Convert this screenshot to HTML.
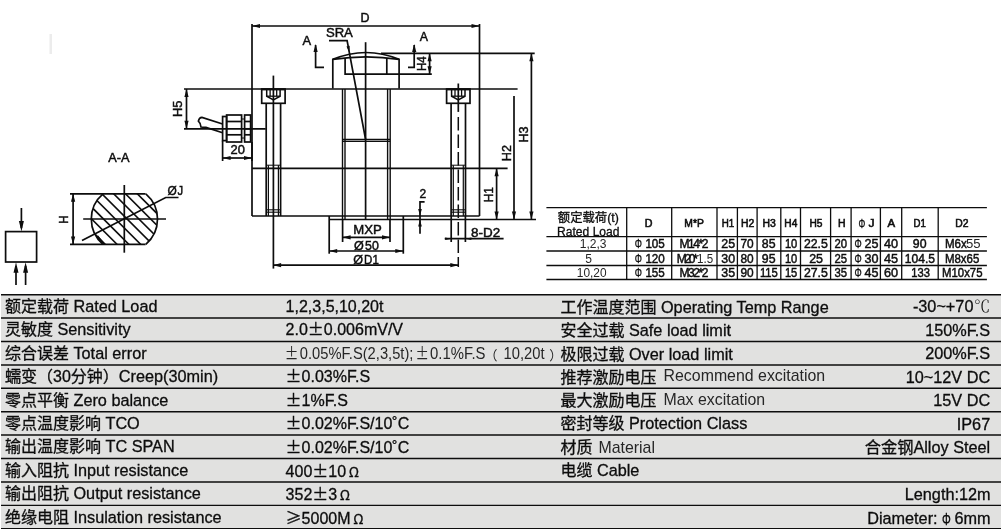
<!DOCTYPE html>
<html lang="zh"><head><meta charset="utf-8"><title>Load cell specification</title>
<style>
html,body{margin:0;padding:0;background:#fff;}
body{width:1001px;height:529px;overflow:hidden;}
svg{display:block;will-change:transform;font-family:"Liberation Sans","Noto Sans CJK SC",sans-serif;}
svg .c{font-family:"Noto Sans CJK SC",sans-serif;}
svg .ph{stroke-width:0.3px !important;}
svg .sr text{stroke-width:0.45px;}
svg .dr text{stroke-width:0.45px;}
svg .lt,svg .lt text,svg .lt tspan{stroke:none;fill:#262626;}
svg .cs{font-family:"Noto Serif CJK SC",serif;stroke:none;font-weight:300;}
svg .hd text{stroke-width:0.55px;}
svg text{fill:#0d0d0d;stroke:#0d0d0d;stroke-width:0.3px;}
</style></head><body>
<svg width="1001" height="529" viewBox="0 0 1001 529" stroke="#0d0d0d" fill="none">
<rect x="0" y="0" width="1001" height="529" fill="#ffffff" stroke="none"/>
<rect x="1" y="295" width="1000" height="234" fill="#e1e1e0" stroke="none"/>
<line x1="1" y1="294.7" x2="1001" y2="294.7" stroke-width="1.4" />
<line x1="1" y1="318.0" x2="1001" y2="318.0" stroke-width="1.4" />
<line x1="1" y1="341.5" x2="1001" y2="341.5" stroke-width="1.4" />
<line x1="1" y1="365.0" x2="1001" y2="365.0" stroke-width="1.4" />
<line x1="1" y1="388.3" x2="1001" y2="388.3" stroke-width="1.4" />
<line x1="1" y1="411.7" x2="1001" y2="411.7" stroke-width="1.4" />
<line x1="1" y1="435.0" x2="1001" y2="435.0" stroke-width="1.4" />
<line x1="1" y1="458.5" x2="1001" y2="458.5" stroke-width="1.4" />
<line x1="1" y1="482.0" x2="1001" y2="482.0" stroke-width="1.4" />
<line x1="1" y1="505.4" x2="1001" y2="505.4" stroke-width="1.4" />
<line x1="1" y1="528.6" x2="1001" y2="528.6" stroke-width="1.4" />
<text x="5" y="312.1" font-size="16" >额定载荷 <tspan font-size="16.25">Rated Load</tspan></text>
<text x="285.6" y="312.0" font-size="16" >1,2,3,5,10,20t</text>
<text x="560.5" y="312.8" font-size="16" >工作温度范围 <tspan font-size="16.25">Operating Temp Range</tspan></text>
<text x="990.2" y="312.2" font-size="16.25" text-anchor="end" >-30~+70<tspan class="cs" dx="0.5">℃</tspan></text>
<text x="5" y="335.4" font-size="16" >灵敏度 <tspan font-size="16.25">Sensitivity</tspan></text>
<text x="285.6" y="335.3" font-size="16" >2.0<tspan class="c">±</tspan>0.006mV/V</text>
<text x="560.5" y="336.0" font-size="16" >安全过载 <tspan font-size="16.25">Safe load limit</tspan></text>
<text x="990.2" y="335.5" font-size="16.25" text-anchor="end" >150%F.S</text>
<text x="5" y="358.8" font-size="16" >综合误差 <tspan font-size="16.25">Total error</tspan></text>
<text x="560.5" y="359.5" font-size="16" >极限过载 <tspan font-size="16.25">Over load limit</tspan></text>
<text x="990.2" y="359.0" font-size="16.25" text-anchor="end" >200%F.S</text>
<text x="5" y="382.2" font-size="16" >蠕变（30分钟）<tspan font-size="16.25">Creep(30min)</tspan></text>
<text x="285.6" y="382.3" font-size="16" ><tspan class="c">±</tspan>0.03%F.S</text>
<text x="560.5" y="382.8" font-size="16" >推荐激励电压 <tspan class="lt" font-size="15.9" dy="-1.6" dx="2.6">Recommend excitation</tspan></text>
<text x="990.2" y="382.6" font-size="16.25" text-anchor="end" >10~12V DC</text>
<text x="5" y="405.6" font-size="16" >零点平衡 <tspan font-size="16.25">Zero balance</tspan></text>
<text x="285.6" y="405.8" font-size="16" ><tspan class="c">±</tspan>1%F.S</text>
<text x="560.5" y="406.1" font-size="16" >最大激励电压 <tspan class="lt" font-size="15.9" dy="-1" dx="2.6">Max excitation</tspan></text>
<text x="990.2" y="406.0" font-size="16.25" text-anchor="end" >15V DC</text>
<text x="5" y="429.1" font-size="16" >零点温度影响 <tspan font-size="16.25">TCO</tspan></text>
<text x="285.6" y="429.2" font-size="16" ><tspan class="c">±</tspan>0.02%F.S/10˚C</text>
<text x="560.5" y="429.3" font-size="16" >密封等级 <tspan font-size="16.25">Protection Class</tspan></text>
<text x="990.2" y="429.5" font-size="16.25" text-anchor="end" >IP67</text>
<text x="5" y="452.3" font-size="16" >输出温度影响 <tspan font-size="16.25">TC SPAN</tspan></text>
<text x="285.6" y="452.5" font-size="16" ><tspan class="c">±</tspan>0.02%F.S/10˚C</text>
<text x="560.5" y="452.9" font-size="16" >材质 <tspan class="lt" font-size="15.9" dx="1.5">Material</tspan></text>
<text x="990.2" y="452.9" font-size="16.25" text-anchor="end" >合金钢Alloy Steel</text>
<text x="5" y="475.7" font-size="16" >输入阻抗 <tspan font-size="16.25">Input resistance</tspan></text>
<text x="285.6" y="476.7" font-size="16" >400<tspan class="c">±</tspan>10<tspan class="c" font-size="13.6" dx="2.6">Ω</tspan></text>
<text x="560.5" y="476.4" font-size="16" >电缆 <tspan font-size="16.25">Cable</tspan></text>
<text x="5" y="499.2" font-size="16" >输出阻抗 <tspan font-size="16.25">Output resistance</tspan></text>
<text x="285.6" y="500.2" font-size="16" >352<tspan class="c">±</tspan>3<tspan class="c" font-size="13.6" dx="2.6">Ω</tspan></text>
<text x="990.6" y="500.1" font-size="16.25" text-anchor="end" >Length:12m</text>
<text x="5" y="522.6" font-size="16" >绝缘电阻 <tspan font-size="16.25">Insulation resistance</tspan></text>
<text x="285.6" y="523.6" font-size="16" ><tspan class="c">≥</tspan>5000M<tspan class="c" font-size="13.6" dx="2.6">Ω</tspan></text>
<text y="523.5" font-size="16.25"><tspan x="942.1" text-anchor="end">Diameter: </tspan><tspan x="941.9" y="524.8" font-size="16.5" textLength="8.8" lengthAdjust="spacingAndGlyphs" class="ph">Φ</tspan><tspan x="990.6" y="523.5" text-anchor="end">6mm</tspan></text>
<text class="lt"><tspan x="284.7" y="358.9" font-size="16.2" textLength="13.7" lengthAdjust="spacingAndGlyphs" class="c">±</tspan><tspan x="299.8" y="358.9" font-size="16.2" textLength="113.6" lengthAdjust="spacingAndGlyphs">0.05%F.S(2,3,5t);</tspan><tspan x="415.4" y="358.9" font-size="16.2" textLength="13.4" lengthAdjust="spacingAndGlyphs" class="c">±</tspan><tspan x="430.1" y="358.9" font-size="16.2" textLength="55.4" lengthAdjust="spacingAndGlyphs">0.1%F.S</tspan><tspan x="484.6" y="360.2" font-size="13" class="c">（</tspan><tspan x="503.5" y="358.9" font-size="16.2" textLength="41.0" lengthAdjust="spacingAndGlyphs">10,20t</tspan><tspan x="549.3" y="360.2" font-size="13" class="c">）</tspan></text>
<line x1="546.4" y1="207.7" x2="986.9" y2="207.7" stroke-width="1.3" />
<line x1="546.4" y1="236.6" x2="986.9" y2="236.6" stroke-width="1.3" />
<line x1="546.4" y1="251" x2="986.9" y2="251" stroke-width="1.3" />
<line x1="546.4" y1="265.5" x2="986.9" y2="265.5" stroke-width="1.3" />
<line x1="546.4" y1="279.5" x2="986.9" y2="279.5" stroke-width="1.3" />
<line x1="626.7" y1="207.7" x2="626.7" y2="279.5" stroke-width="1.3" />
<line x1="671.7" y1="207.7" x2="671.7" y2="279.5" stroke-width="1.3" />
<line x1="717" y1="207.7" x2="717" y2="279.5" stroke-width="1.3" />
<line x1="737.4" y1="207.7" x2="737.4" y2="279.5" stroke-width="1.3" />
<line x1="757.1" y1="207.7" x2="757.1" y2="279.5" stroke-width="1.3" />
<line x1="780.8" y1="207.7" x2="780.8" y2="279.5" stroke-width="1.3" />
<line x1="800.5" y1="207.7" x2="800.5" y2="279.5" stroke-width="1.3" />
<line x1="830.6" y1="207.7" x2="830.6" y2="279.5" stroke-width="1.3" />
<line x1="851.1" y1="207.7" x2="851.1" y2="279.5" stroke-width="1.3" />
<line x1="880.4" y1="207.7" x2="880.4" y2="279.5" stroke-width="1.3" />
<line x1="901.7" y1="207.7" x2="901.7" y2="279.5" stroke-width="1.3" />
<line x1="938.2" y1="207.7" x2="938.2" y2="279.5" stroke-width="1.3" />
<text x="588.3" y="222.4" font-size="12" text-anchor="middle" textLength="61" lengthAdjust="spacingAndGlyphs" >额定载荷(t)</text>
<text x="588.3" y="235.6" font-size="12" text-anchor="middle" textLength="62.5" lengthAdjust="spacingAndGlyphs" >Rated Load</text>
<g class="hd">
<text x="644.8" y="227.2" font-size="10" textLength="7.7" lengthAdjust="spacingAndGlyphs">D</text>
<text x="684.3" y="227.2" font-size="10" textLength="19.5" lengthAdjust="spacingAndGlyphs">M*P</text>
<text x="721.8" y="227.2" font-size="10" textLength="12.5" lengthAdjust="spacingAndGlyphs">H1</text>
<text x="741.0" y="227.2" font-size="10" textLength="13.3" lengthAdjust="spacingAndGlyphs">H2</text>
<text x="762.5" y="227.2" font-size="10" textLength="13.3" lengthAdjust="spacingAndGlyphs">H3</text>
<text x="784.3" y="227.2" font-size="10" textLength="13.0" lengthAdjust="spacingAndGlyphs">H4</text>
<text x="809.5" y="227.2" font-size="10" textLength="13.0" lengthAdjust="spacingAndGlyphs">H5</text>
<text x="838.1" y="227.2" font-size="10" textLength="7.6" lengthAdjust="spacingAndGlyphs">H</text>
<text><tspan x="858.6" y="227.6" font-size="12.5" textLength="6.8" lengthAdjust="spacingAndGlyphs" class="ph">Φ</tspan><tspan x="868.5" y="227.2" font-size="10.5" textLength="6.0" lengthAdjust="spacingAndGlyphs">J</tspan></text>
<text x="887.5" y="227.2" font-size="10" textLength="7.6" lengthAdjust="spacingAndGlyphs">A</text>
<text x="913.5" y="227.2" font-size="10" textLength="12.3" lengthAdjust="spacingAndGlyphs">D1</text>
<text x="955.3" y="227.2" font-size="10" textLength="13.2" lengthAdjust="spacingAndGlyphs">D2</text>
</g>
<text x="579.7" y="248.4" font-size="12" textLength="26.8" lengthAdjust="spacingAndGlyphs" class="lt">1,2,3</text>
<text x="585.3" y="262.7" font-size="12" textLength="6.7" lengthAdjust="spacingAndGlyphs" class="lt">5</text>
<text x="576.8" y="276.9" font-size="12" textLength="29.7" lengthAdjust="spacingAndGlyphs" class="lt">10,20</text>
<g class="sr">
<text><tspan x="634.7" y="248.4" font-size="12.5" textLength="7.2" lengthAdjust="spacingAndGlyphs" class="ph">Φ</tspan><tspan x="645.4" y="248.4" font-size="12" textLength="19.4" lengthAdjust="spacingAndGlyphs">105</tspan></text>
<text x="679.5" y="248.4" font-size="12" textLength="29.0" lengthAdjust="spacing">M14*2</text>
<text x="721.3" y="248.4" font-size="12" textLength="13.8" lengthAdjust="spacingAndGlyphs">25</text>
<text x="740.5" y="248.4" font-size="12" textLength="13.2" lengthAdjust="spacingAndGlyphs">70</text>
<text x="761.8" y="248.4" font-size="12" textLength="13.7" lengthAdjust="spacingAndGlyphs">85</text>
<text x="784.9" y="248.4" font-size="12" textLength="12.4" lengthAdjust="spacingAndGlyphs">10</text>
<text x="803.9" y="248.4" font-size="12" textLength="23.9" lengthAdjust="spacingAndGlyphs">22.5</text>
<text x="834.5" y="248.4" font-size="12" textLength="12.6" lengthAdjust="spacingAndGlyphs">20</text>
<text><tspan x="854.5" y="248.4" font-size="12.5" textLength="7.2" lengthAdjust="spacingAndGlyphs" class="ph">Φ</tspan><tspan x="864.5" y="248.4" font-size="12" textLength="14.0" lengthAdjust="spacingAndGlyphs">25</tspan></text>
<text x="883.9" y="248.4" font-size="12" textLength="14.1" lengthAdjust="spacingAndGlyphs">40</text>
<text x="912.8" y="248.4" font-size="12" textLength="13.7" lengthAdjust="spacingAndGlyphs">90</text>
<text><tspan x="634.7" y="262.7" font-size="12.5" textLength="7.2" lengthAdjust="spacingAndGlyphs" class="ph">Φ</tspan><tspan x="645.4" y="262.7" font-size="12" textLength="19.4" lengthAdjust="spacingAndGlyphs">120</tspan></text>
<text><tspan x="676.7" y="262.7" font-size="12" textLength="21.1" lengthAdjust="spacing">M20*</tspan><tspan x="697.1" y="262.7" font-size="12" textLength="16.1" lengthAdjust="spacingAndGlyphs" class="lt">1.5</tspan></text>
<text x="721.3" y="262.7" font-size="12" textLength="13.8" lengthAdjust="spacingAndGlyphs">30</text>
<text x="740.5" y="262.7" font-size="12" textLength="13.2" lengthAdjust="spacingAndGlyphs">80</text>
<text x="761.8" y="262.7" font-size="12" textLength="13.7" lengthAdjust="spacingAndGlyphs">95</text>
<text x="784.9" y="262.7" font-size="12" textLength="12.4" lengthAdjust="spacingAndGlyphs">10</text>
<text x="809.2" y="262.7" font-size="12" textLength="13.8" lengthAdjust="spacingAndGlyphs">25</text>
<text x="834.5" y="262.7" font-size="12" textLength="12.6" lengthAdjust="spacingAndGlyphs">25</text>
<text><tspan x="854.5" y="262.7" font-size="12.5" textLength="7.2" lengthAdjust="spacingAndGlyphs" class="ph">Φ</tspan><tspan x="864.5" y="262.7" font-size="12" textLength="14.0" lengthAdjust="spacingAndGlyphs">30</tspan></text>
<text x="883.9" y="262.7" font-size="12" textLength="14.1" lengthAdjust="spacingAndGlyphs">45</text>
<text x="904.8" y="262.7" font-size="12" textLength="30.2" lengthAdjust="spacingAndGlyphs">104.5</text>
<text><tspan x="634.7" y="276.9" font-size="12.5" textLength="7.2" lengthAdjust="spacingAndGlyphs" class="ph">Φ</tspan><tspan x="645.4" y="276.9" font-size="12" textLength="19.4" lengthAdjust="spacingAndGlyphs">155</tspan></text>
<text x="679.5" y="276.9" font-size="12" textLength="29.0" lengthAdjust="spacing">M32*2</text>
<text x="721.3" y="276.9" font-size="12" textLength="13.8" lengthAdjust="spacingAndGlyphs">35</text>
<text x="740.5" y="276.9" font-size="12" textLength="13.2" lengthAdjust="spacingAndGlyphs">90</text>
<text x="759.9" y="276.9" font-size="12" textLength="17.9" lengthAdjust="spacingAndGlyphs">115</text>
<text x="784.9" y="276.9" font-size="12" textLength="12.4" lengthAdjust="spacingAndGlyphs">15</text>
<text x="803.9" y="276.9" font-size="12" textLength="23.9" lengthAdjust="spacingAndGlyphs">27.5</text>
<text x="834.5" y="276.9" font-size="12" textLength="12.6" lengthAdjust="spacingAndGlyphs">35</text>
<text><tspan x="854.5" y="276.9" font-size="12.5" textLength="7.2" lengthAdjust="spacingAndGlyphs" class="ph">Φ</tspan><tspan x="864.5" y="276.9" font-size="12" textLength="14.0" lengthAdjust="spacingAndGlyphs">45</tspan></text>
<text x="883.9" y="276.9" font-size="12" textLength="14.1" lengthAdjust="spacingAndGlyphs">60</text>
<text x="911.2" y="276.9" font-size="12" textLength="18.7" lengthAdjust="spacingAndGlyphs">133</text>
<text><tspan x="944.9" y="248.4" font-size="12" textLength="21.8" lengthAdjust="spacingAndGlyphs">M6x</tspan><tspan x="965.9" y="248.4" font-size="12" textLength="14.6" lengthAdjust="spacingAndGlyphs" class="lt">55</tspan></text>
<text x="944.9" y="262.7" font-size="12" textLength="34.4" lengthAdjust="spacingAndGlyphs">M8x65</text>
<text x="942.0" y="276.9" font-size="12" textLength="40.5" lengthAdjust="spacingAndGlyphs">M10x75</text>
</g>
<g class="dr">
<line x1="252" y1="24" x2="252" y2="216" stroke-width="1.7" />
<line x1="479.5" y1="24" x2="479.5" y2="216" stroke-width="1.7" />
<line x1="184" y1="89" x2="517.6" y2="89" stroke-width="1.7" />
<line x1="252" y1="168.3" x2="507.6" y2="168.3" stroke-width="1.7" />
<line x1="252" y1="216" x2="479.5" y2="216" stroke-width="1.7" />
<line x1="329.2" y1="219.5" x2="536" y2="219.5" stroke-width="1.7" />
<line x1="329.2" y1="216" x2="329.2" y2="253.7" stroke-width="1.7" />
<line x1="403.3" y1="216" x2="403.3" y2="253.7" stroke-width="1.7" />
<line x1="252" y1="26" x2="479.5" y2="26" stroke-width="1.7" />
<polygon points="252.0,26.0 260.0,23.9 260.0,28.1" fill="#0d0d0d" stroke="none"/>
<polygon points="479.5,26.0 471.5,28.1 471.5,23.9" fill="#0d0d0d" stroke="none"/>
<text x="360.6" y="22" font-size="12.3" textLength="9.0" lengthAdjust="spacingAndGlyphs">D</text>
<path d="M332.8 88.5V59.4Q366 45.6 399.1 59.4V88.5" stroke-width="1.7" fill="none" />
<path d="M332.8 59.4Q366 54.2 399.1 59.4" stroke-width="1.7" fill="none" />
<path d="M345.1 58V74.2H431.8" stroke-width="1.7" fill="none" />
<line x1="386.8" y1="58" x2="386.8" y2="74.2" stroke-width="1.7" />
<line x1="381" y1="53.3" x2="534.7" y2="53.3" stroke-width="1.7" />
<line x1="429.6" y1="53.3" x2="429.6" y2="74.2" stroke-width="1.7" />
<polygon points="429.6,53.3 431.7,61.3 427.5,61.3" fill="#0d0d0d" stroke="none"/>
<polygon points="429.6,74.2 427.5,66.2 431.7,66.2" fill="#0d0d0d" stroke="none"/>
<text x="426.5" y="71.1" font-size="12.3" textLength="14.8" lengthAdjust="spacingAndGlyphs" transform="rotate(-90 426.5 71.1)">H4</text>
<path d="M315.6 45V67.3H324" stroke-width="1.7" fill="none" />
<polygon points="315.6,44.0 317.7,52.0 313.5,52.0" fill="#0d0d0d" stroke="none"/>
<path d="M408 67.3H414.2V45" stroke-width="1.7" fill="none" />
<polygon points="414.2,44.0 416.3,52.0 412.1,52.0" fill="#0d0d0d" stroke="none"/>
<text x="302.4" y="45" font-size="12.3" textLength="8.6" lengthAdjust="spacingAndGlyphs">A</text>
<text x="419.8" y="40.6" font-size="12.3" textLength="8.2" lengthAdjust="spacingAndGlyphs">A</text>
<text x="325.9" y="37.1" font-size="12.3" textLength="27.0" lengthAdjust="spacingAndGlyphs">SRA</text>
<path d="M329 40.6H347.1L365.6 139.5" stroke-width="1.7" fill="none" />
<polygon points="349.3,52.5 346.5,46.4 349.7,45.8" fill="#0d0d0d" stroke="none"/>
<line x1="365.6" y1="42.2" x2="365.6" y2="219.3" stroke-width="1.7" />
<line x1="342.5" y1="89" x2="342.5" y2="219.3" stroke-width="1.4" />
<line x1="345.0" y1="89" x2="345.0" y2="219.3" stroke-width="1.4" />
<line x1="387.6" y1="89" x2="387.6" y2="219.3" stroke-width="1.4" />
<line x1="390.2" y1="89" x2="390.2" y2="219.3" stroke-width="1.4" />
<line x1="342.5" y1="139.5" x2="390.2" y2="139.5" stroke-width="1.4" />
<line x1="342.5" y1="141.4" x2="390.2" y2="141.4" stroke-width="1.4" />
<rect x="261.7" y="89" width="23.4" height="14.3" stroke-width="1.7" fill="none"/>
<path d="M266.7 89V96.2L273.4 100L280.1 96.2V89" stroke-width="1.5" fill="none" />
<line x1="270.1" y1="89" x2="270.1" y2="96.2" stroke-width="1.3" />
<line x1="276.7" y1="89" x2="276.7" y2="96.2" stroke-width="1.3" />
<line x1="266.7" y1="96.2" x2="280.1" y2="96.2" stroke-width="1.3" />
<line x1="261.4" y1="89.6" x2="285.4" y2="89.6" stroke-width="1.6" />
<line x1="266.2" y1="103.2" x2="266.2" y2="216" stroke-width="1.7" />
<line x1="280.59999999999997" y1="103.2" x2="280.59999999999997" y2="216" stroke-width="1.7" />
<line x1="266.2" y1="165.2" x2="280.59999999999997" y2="165.2" stroke-width="1" />
<line x1="268.4" y1="165.2" x2="268.4" y2="216" stroke-width="1.2" />
<line x1="278.4" y1="165.2" x2="278.4" y2="216" stroke-width="1.2" />
<line x1="266.2" y1="209.8" x2="280.59999999999997" y2="209.8" stroke-width="1.1" />
<line x1="266.2" y1="212.2" x2="280.59999999999997" y2="212.2" stroke-width="1.1" />
<line x1="273.4" y1="75.6" x2="273.4" y2="268.6" stroke-width="1.7" />
<rect x="446.6" y="89" width="23.4" height="14.3" stroke-width="1.7" fill="none"/>
<path d="M451.6 89V96.2L458.3 100L465.0 96.2V89" stroke-width="1.5" fill="none" />
<line x1="455.0" y1="89" x2="455.0" y2="96.2" stroke-width="1.3" />
<line x1="461.6" y1="89" x2="461.6" y2="96.2" stroke-width="1.3" />
<line x1="451.6" y1="96.2" x2="465.0" y2="96.2" stroke-width="1.3" />
<line x1="446.3" y1="89.6" x2="470.3" y2="89.6" stroke-width="1.6" />
<line x1="451.1" y1="103.2" x2="451.1" y2="216" stroke-width="1.7" />
<line x1="465.5" y1="103.2" x2="465.5" y2="216" stroke-width="1.7" />
<line x1="451.1" y1="165.2" x2="465.5" y2="165.2" stroke-width="1" />
<line x1="453.3" y1="165.2" x2="453.3" y2="216" stroke-width="1.2" />
<line x1="463.3" y1="165.2" x2="463.3" y2="216" stroke-width="1.2" />
<line x1="451.1" y1="209.8" x2="465.5" y2="209.8" stroke-width="1.1" />
<line x1="451.1" y1="212.2" x2="465.5" y2="212.2" stroke-width="1.1" />
<line x1="458.3" y1="83.5" x2="458.3" y2="111.9" stroke-width="1.7" />
<line x1="458.3" y1="117" x2="458.3" y2="267" stroke-width="1.5" stroke-dasharray="13.4 4.1"/>
<line x1="184" y1="128.8" x2="265.7" y2="128.8" stroke-width="1.7" />
<line x1="186.5" y1="89" x2="186.5" y2="128.8" stroke-width="1.7" />
<polygon points="186.5,89.0 188.6,97.0 184.4,97.0" fill="#0d0d0d" stroke="none"/>
<polygon points="186.5,128.8 184.4,120.8 188.6,120.8" fill="#0d0d0d" stroke="none"/>
<text x="181.6" y="117.0" font-size="12.3" textLength="16.5" lengthAdjust="spacingAndGlyphs" transform="rotate(-90 181.6 117.0)">H5</text>
<rect x="222.6" y="116.5" width="4" height="24.1" stroke-width="1.7" fill="none"/>
<rect x="226.6" y="115" width="15" height="27" stroke-width="1.7" fill="none"/>
<line x1="226.6" y1="121.5" x2="241.6" y2="121.5" stroke-width="1.7" />
<line x1="226.6" y1="134.8" x2="241.6" y2="134.8" stroke-width="1.7" />
<rect x="244.6" y="115" width="6" height="27" stroke-width="1.7" fill="none"/>
<line x1="244.6" y1="121.5" x2="250.6" y2="121.5" stroke-width="1.7" />
<line x1="244.6" y1="134.8" x2="250.6" y2="134.8" stroke-width="1.7" />
<line x1="244.6" y1="128.8" x2="250.6" y2="128.8" stroke-width="1.7" />
<line x1="241.6" y1="119" x2="244.6" y2="119" stroke-width="1" />
<line x1="241.6" y1="138" x2="244.6" y2="138" stroke-width="1" />
<path d="M222.6 124L202 117.4Q199 117.6 198.4 121.2Q200.5 123 201 127Q203 127.6 206 127.4L222.6 132.8" stroke-width="1.7" fill="none" />
<line x1="222.6" y1="140.6" x2="222.6" y2="161" stroke-width="1.7" />
<line x1="252" y1="142" x2="252" y2="161" stroke-width="1.7" />
<line x1="222.6" y1="158" x2="252" y2="158" stroke-width="1.7" />
<polygon points="222.6,158.0 230.6,155.9 230.6,160.1" fill="#0d0d0d" stroke="none"/>
<polygon points="252.0,158.0 244.0,160.1 244.0,155.9" fill="#0d0d0d" stroke="none"/>
<text x="230.5" y="153.7" font-size="12.3" textLength="14.3" lengthAdjust="spacingAndGlyphs">20</text>
<line x1="496.6" y1="168.3" x2="496.6" y2="219.5" stroke-width="1.7" />
<polygon points="496.6,168.3 498.7,176.3 494.5,176.3" fill="#0d0d0d" stroke="none"/>
<polygon points="496.6,219.5 494.5,211.5 498.7,211.5" fill="#0d0d0d" stroke="none"/>
<text x="493" y="202.3" font-size="12.3" textLength="15.1" lengthAdjust="spacingAndGlyphs" transform="rotate(-90 493 202.3)">H1</text>
<line x1="514" y1="96" x2="514" y2="219.5" stroke-width="1.7" />
<polygon points="514.0,219.5 511.9,211.5 516.1,211.5" fill="#0d0d0d" stroke="none"/>
<text x="510.6" y="161.2" font-size="12.3" textLength="16.1" lengthAdjust="spacingAndGlyphs" transform="rotate(-90 510.6 161.2)">H2</text>
<line x1="531.4" y1="53.3" x2="531.4" y2="219.5" stroke-width="1.7" />
<polygon points="531.4,53.3 533.5,61.3 529.3,61.3" fill="#0d0d0d" stroke="none"/>
<polygon points="531.4,219.5 529.3,211.5 533.5,211.5" fill="#0d0d0d" stroke="none"/>
<text x="528.2" y="142.5" font-size="12.3" textLength="16.0" lengthAdjust="spacingAndGlyphs" transform="rotate(-90 528.2 142.5)">H3</text>
<text x="422.8" y="198.3" font-size="12" text-anchor="middle" >2</text>
<path d="M424.6 201.8H420V233.7" stroke-width="1.7" fill="none" />
<polygon points="420.0,216.0 418.2,209.0 421.8,209.0" fill="#0d0d0d" stroke="none"/>
<polygon points="420.0,219.5 421.8,226.5 418.2,226.5" fill="#0d0d0d" stroke="none"/>
<line x1="342.6" y1="219.3" x2="342.6" y2="242" stroke-width="1.7" />
<line x1="390" y1="219.3" x2="390" y2="242" stroke-width="1.7" />
<line x1="342.6" y1="237.3" x2="390" y2="237.3" stroke-width="1.7" />
<polygon points="342.6,237.3 350.6,235.2 350.6,239.4" fill="#0d0d0d" stroke="none"/>
<polygon points="390.0,237.3 382.0,239.4 382.0,235.2" fill="#0d0d0d" stroke="none"/>
<text x="353.3" y="233.8" font-size="12.3" textLength="28.5" lengthAdjust="spacingAndGlyphs">MXP</text>
<line x1="329.2" y1="251" x2="403.3" y2="251" stroke-width="1.7" />
<polygon points="329.2,251.0 337.2,248.9 337.2,253.1" fill="#0d0d0d" stroke="none"/>
<polygon points="403.3,251.0 395.3,253.1 395.3,248.9" fill="#0d0d0d" stroke="none"/>
<text><tspan x="354.1" y="249.8" font-size="12.3" textLength="9.8" lengthAdjust="spacingAndGlyphs">Ø</tspan><tspan x="365.1" y="249.8" font-size="12.3" textLength="13.7" lengthAdjust="spacingAndGlyphs">50</tspan></text>
<line x1="273.1" y1="265.2" x2="458.3" y2="265.2" stroke-width="1.7" />
<polygon points="273.1,265.2 281.1,263.1 281.1,267.3" fill="#0d0d0d" stroke="none"/>
<polygon points="458.3,265.2 450.3,267.3 450.3,263.1" fill="#0d0d0d" stroke="none"/>
<text><tspan x="353.3" y="263.8" font-size="12.3" textLength="9.8" lengthAdjust="spacingAndGlyphs">Ø</tspan><tspan x="364.1" y="263.8" font-size="12.3" textLength="14.7" lengthAdjust="spacingAndGlyphs">D1</tspan></text>
<line x1="451.2" y1="216" x2="451.2" y2="242" stroke-width="1.7" />
<line x1="465.4" y1="216" x2="465.4" y2="242" stroke-width="1.7" />
<line x1="444.7" y1="238.7" x2="503.6" y2="238.7" stroke-width="1.7" />
<polygon points="451.2,238.7 445.2,240.0 445.2,237.4" fill="#0d0d0d" stroke="none"/>
<polygon points="465.4,238.7 471.4,237.4 471.4,240.0" fill="#0d0d0d" stroke="none"/>
<text x="471.0" y="236.5" font-size="12.3" textLength="29.1" lengthAdjust="spacingAndGlyphs">8-D2</text>
<text x="108.2" y="162.4" font-size="12.3" textLength="21.3" lengthAdjust="spacingAndGlyphs">A-A</text>
<line x1="70" y1="193.8" x2="145.6" y2="193.8" stroke-width="1.7" />
<line x1="70" y1="244.4" x2="145.6" y2="244.4" stroke-width="1.7" />
<line x1="73.1" y1="193.8" x2="73.1" y2="244.4" stroke-width="1.7" />
<polygon points="73.1,193.8 75.2,201.8 71.0,201.8" fill="#0d0d0d" stroke="none"/>
<polygon points="73.1,244.4 71.0,236.4 75.2,236.4" fill="#0d0d0d" stroke="none"/>
<text x="68" y="223.7" font-size="12.3" textLength="8.2" lengthAdjust="spacingAndGlyphs" transform="rotate(-90 68 223.7)">H</text>
<line x1="124.3" y1="185" x2="124.3" y2="252.7" stroke-width="1.7" />
<line x1="83.2" y1="219" x2="166" y2="219" stroke-width="1.7" />
<path d="M103.0 193.8A33.2 33.2 0 0 0 103.0 244.4" stroke-width="1.7" fill="none" />
<path d="M145.8 193.8A33.2 33.2 0 0 1 145.8 244.4" stroke-width="1.7" fill="none" />
<clipPath id="cp"><path d="M103.0 193.8A33.2 33.2 0 0 0 103.0 244.4H145.8A33.2 33.2 0 0 0 145.8 193.8Z"/></clipPath>
<g clip-path="url(#cp)"><line x1="-7.1" y1="179.2" x2="72.9" y2="259.2" stroke-width="1.6"/><line x1="4.7" y1="179.2" x2="84.7" y2="259.2" stroke-width="1.6"/><line x1="16.5" y1="179.2" x2="96.5" y2="259.2" stroke-width="1.6"/><line x1="28.3" y1="179.2" x2="108.3" y2="259.2" stroke-width="1.6"/><line x1="40.1" y1="179.2" x2="120.1" y2="259.2" stroke-width="1.6"/><line x1="51.9" y1="179.2" x2="131.9" y2="259.2" stroke-width="1.6"/><line x1="63.7" y1="179.2" x2="143.7" y2="259.2" stroke-width="1.6"/><line x1="75.5" y1="179.2" x2="155.5" y2="259.2" stroke-width="1.6"/><line x1="87.3" y1="179.2" x2="167.3" y2="259.2" stroke-width="1.6"/><line x1="99.1" y1="179.2" x2="179.1" y2="259.2" stroke-width="1.6"/><line x1="110.9" y1="179.2" x2="190.9" y2="259.2" stroke-width="1.6"/><line x1="122.7" y1="179.2" x2="202.7" y2="259.2" stroke-width="1.6"/><line x1="134.5" y1="179.2" x2="214.5" y2="259.2" stroke-width="1.6"/><line x1="146.3" y1="179.2" x2="226.3" y2="259.2" stroke-width="1.6"/><line x1="158.1" y1="179.2" x2="238.1" y2="259.2" stroke-width="1.6"/><line x1="169.9" y1="179.2" x2="249.9" y2="259.2" stroke-width="1.6"/><line x1="181.7" y1="179.2" x2="261.7" y2="259.2" stroke-width="1.6"/></g>
<path d="M97.3 236.3L103.6 244.2" stroke-width="2.2" fill="none" />
<text><tspan x="167.5" y="194.5" font-size="12.3" textLength="9.3" lengthAdjust="spacingAndGlyphs">Ø</tspan><tspan x="177.5" y="194.5" font-size="12.3" textLength="5.6" lengthAdjust="spacingAndGlyphs">J</tspan></text>
<path d="M178.5 197.5H165.7L82 240.5" stroke-width="1.7" fill="none" />
<rect x="5.6" y="231.6" width="31" height="30.4" stroke-width="1.7" fill="none"/>
<line x1="21.4" y1="208" x2="21.4" y2="228" stroke-width="1.7" />
<polygon points="21.4,231.6 18.9,221.1 23.9,221.1" fill="#0d0d0d" stroke="none"/>
<line x1="16" y1="285" x2="16" y2="266" stroke-width="1.7" />
<polygon points="16.0,262.2 18.5,272.7 13.5,272.7" fill="#0d0d0d" stroke="none"/>
<line x1="25.6" y1="285" x2="25.6" y2="266" stroke-width="1.7" />
<polygon points="25.6,262.2 28.1,272.7 23.1,272.7" fill="#0d0d0d" stroke="none"/>
</g>
<rect x="49.5" y="34" width="2.5" height="20" fill="#ececec" stroke="none"/>
</svg>
</body></html>
